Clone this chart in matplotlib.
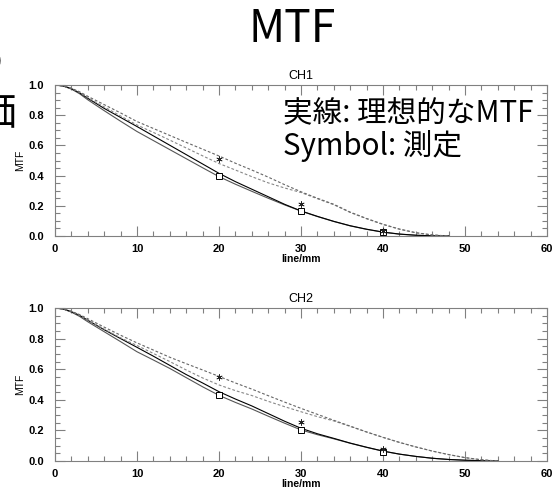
import matplotlib
matplotlib.use("Agg")
import matplotlib.pyplot as plt
from matplotlib.ticker import MultipleLocator

plt.rcParams['font.family'] = ['Liberation Sans', 'DejaVu Sans']

# CH1 curves
x1 = [0, 1, 2, 3, 4, 6, 8, 10, 12, 14, 16, 18, 20, 22, 24, 26, 28, 30, 32, 34, 36, 38, 40, 42, 44, 46, 48]
ch1_solid_a = [1.0, 0.994, 0.976, 0.948, 0.912, 0.845, 0.785, 0.725, 0.663, 0.601, 0.539, 0.477, 0.415, 0.36,
               0.31, 0.26, 0.21, 0.166, 0.13, 0.097, 0.068, 0.045, 0.026, 0.013, 0.005, 0.001, 0.0]
ch1_solid_b = [1.0, 0.993, 0.973, 0.942, 0.902, 0.83, 0.76, 0.692, 0.632, 0.572, 0.512, 0.452, 0.393, 0.343,
               0.296, 0.25, 0.206, 0.165, 0.129, 0.096, 0.067, 0.044, 0.025, 0.012, 0.005, 0.001, 0.0]
ch1_dash_a = [1.0, 0.994, 0.978, 0.955, 0.925, 0.87, 0.815, 0.758, 0.712, 0.666, 0.62, 0.575, 0.53, 0.482,
              0.437, 0.39, 0.34, 0.293, 0.25, 0.21, 0.158, 0.116, 0.078, 0.046, 0.022, 0.007, 0.0]
ch1_dash_b = [1.0, 0.994, 0.977, 0.95, 0.916, 0.855, 0.795, 0.735, 0.686, 0.635, 0.583, 0.531, 0.48, 0.437,
              0.393, 0.352, 0.318, 0.288, 0.247, 0.207, 0.156, 0.114, 0.076, 0.045, 0.021, 0.007, 0.0]
ch1_sq_x = [20, 30, 40]
ch1_sq_y = [0.395, 0.166, 0.026]
ch1_ast_x = [20, 30, 40]
ch1_ast_y = [0.51, 0.21, 0.033]

# CH2 curves
x2 = [0, 1, 2, 3, 4, 6, 8, 10, 12, 14, 16, 18, 20, 22, 24, 26, 28, 30, 32, 34, 36, 38, 40, 42, 44, 46, 48, 50,
      52, 54]
ch2_solid_a = [1.0, 0.994, 0.976, 0.952, 0.92, 0.858, 0.8, 0.743, 0.685, 0.625, 0.565, 0.51, 0.453, 0.405,
               0.36, 0.31, 0.26, 0.214, 0.178, 0.148, 0.117, 0.09, 0.065, 0.045, 0.03, 0.018, 0.01, 0.005,
               0.002, 0.0]
ch2_solid_b = [1.0, 0.993, 0.973, 0.945, 0.91, 0.845, 0.78, 0.714, 0.66, 0.605, 0.545, 0.485, 0.429, 0.383,
               0.34, 0.293, 0.247, 0.203, 0.172, 0.145, 0.116, 0.089, 0.064, 0.045, 0.03, 0.018, 0.01, 0.005,
               0.002, 0.0]
ch2_dash_a = [1.0, 0.994, 0.978, 0.957, 0.93, 0.875, 0.822, 0.772, 0.725, 0.678, 0.636, 0.595, 0.553, 0.51,
              0.47, 0.427, 0.385, 0.344, 0.305, 0.266, 0.228, 0.19, 0.155, 0.122, 0.092, 0.065, 0.042, 0.022,
              0.008, 0.0]
ch2_dash_b = [1.0, 0.994, 0.977, 0.952, 0.92, 0.862, 0.805, 0.755, 0.703, 0.65, 0.595, 0.543, 0.497, 0.46,
              0.428, 0.39, 0.355, 0.322, 0.29, 0.262, 0.226, 0.189, 0.154, 0.121, 0.092, 0.065, 0.042, 0.022,
              0.008, 0.0]
ch2_sq_x = [20, 30, 40]
ch2_sq_y = [0.429, 0.203, 0.057]
ch2_ast_x = [20, 30, 40]
ch2_ast_y = [0.551, 0.255, 0.076]

panels = [
    ("CH1", x1, ch1_solid_a, ch1_solid_b, ch1_dash_a, ch1_dash_b, ch1_sq_x, ch1_sq_y, ch1_ast_x, ch1_ast_y),
    ("CH2", x2, ch2_solid_a, ch2_solid_b, ch2_dash_a, ch2_dash_b, ch2_sq_x, ch2_sq_y, ch2_ast_x, ch2_ast_y),
]

W, H = 555, 495
fig = plt.figure(figsize=(W / 100, H / 100), dpi=100)
boxes = [(55, 85, 547, 236), (55, 308, 547, 461)]
spine_c = "#808080"

for (name, x, sa, sb, da, db, sqx, sqy, asx, asy), (l, t, r, b) in zip(panels, boxes):
    ax = fig.add_axes([l / W, 1 - b / H, (r - l) / W, (b - t) / H])
    ax.plot(x, sb, color="#555555", lw=0.8)
    ax.plot(x, sa, color="black", lw=0.8)
    ax.plot(x, db, color="#888888", lw=0.8, dashes=(2.5, 1.8))
    ax.plot(x, da, color="#666666", lw=0.8, dashes=(2.5, 1.8))
    ax.plot(sqx, sqy, ls="none", marker="s", ms=4, mfc="white", mec="black", mew=0.7)
    ax.plot(asx, asy, ls="none", marker=(6, 2, 0), ms=4.5, mec="#222222", mew=0.5)
    ax.set_xlim(0, 60)
    ax.set_ylim(0, 1.0)
    ax.xaxis.set_major_locator(MultipleLocator(10))
    ax.xaxis.set_minor_locator(MultipleLocator(2))
    ax.yaxis.set_major_locator(MultipleLocator(0.2))
    ax.yaxis.set_minor_locator(MultipleLocator(0.05))
    ax.yaxis.set_major_formatter(plt.FuncFormatter(lambda v, p: "%.1f" % v))
    ax.tick_params(which="both", direction="in", top=True, right=True, color=spine_c, width=0.8)
    ax.tick_params(which="major", length=7, labelsize=8)
    ax.tick_params(axis="x", which="major", pad=6)
    ax.tick_params(axis="y", which="major", pad=8)
    ax.tick_params(which="minor", length=3.5)
    for lab in ax.get_xticklabels() + ax.get_yticklabels():
        lab.set_fontweight("bold")
    for sp in ax.spines.values():
        sp.set_color(spine_c)
        sp.set_linewidth(0.8)
    ax.set_title(name, fontsize=9, pad=4)
    ax.set_xlabel("line/mm", fontsize=7.5, fontweight="bold", labelpad=0)
    ax.set_ylabel("MTF", fontsize=7.5, labelpad=2)

jp = ['Noto Sans CJK JP', 'DejaVu Sans']
fig.text(292 / W, 1 - 29 / H, "MTF", ha="center", va="center", fontsize=32, family=jp)
fig.text(283 / W, 1 - 113 / H, "実線: 理想的なMTF", ha="left", va="center", fontsize=21.3, family=jp)
fig.text(283 / W, 1 - 146 / H, "Symbol: 測定", ha="left", va="center", fontsize=21.3, family=jp)
fig.text(4 / W, 1 - 63 / H, "の", ha="right", va="center", fontsize=29, family=jp)
fig.text(17 / W, 1 - 113 / H, "評価", ha="right", va="center", fontsize=29, family=jp)

fig.savefig("out.png", dpi=100)
